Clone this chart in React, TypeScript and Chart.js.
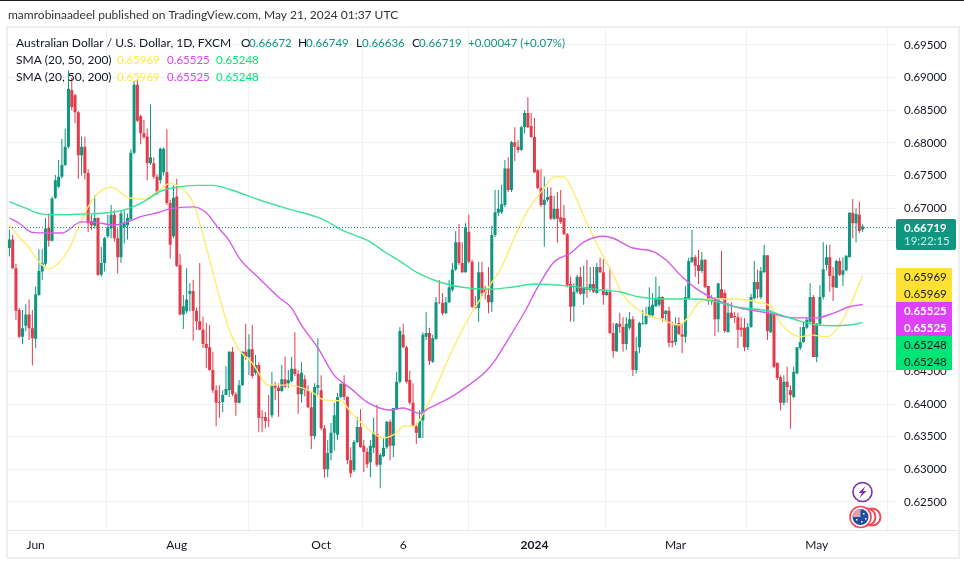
import React, { useEffect, useRef } from "react";
import { Chart, registerables } from "chart.js";

Chart.register(...registerables);

// Daily candles, AUD/USD, 22 May 2023 to 21 May 2024
const opens = [
  .6639,.6652,.6608,.6544,.6503,.6520,.6537,.6516,.6500,.6567,.6603,.6615,.6670,.6650,.6716,.6733,.6748,.6766,.6794,.6881,
  .6873,.6847,.6781,.6794,.6754,.6680,.6673,.6685,.6598,.6616,.6657,.6669,.6690,.6654,.6625,.6671,.6674,.6683,.6785,.6889,
  .6841,.6815,.6810,.6769,.6769,.6748,.6743,.6755,.6755,.6708,.6657,.6718,.6613,.6537,.6542,.6569,.6573,.6543,.6527,.6514,
  .6492,.6487,.6452,.6421,.6403,.6403,.6414,.6421,.6480,.6415,.6402,.6429,.6480,.6472,.6484,.6448,.6460,.6380,.6380,.6375,
  .6383,.6429,.6425,.6420,.6438,.6432,.6435,.6454,.6446,.6415,.6438,.6421,.6395,.6351,.6425,.6421,.6363,.6300,.6325,.6356,
  .6353,.6411,.6431,.6411,.6314,.6299,.6342,.6365,.6336,.6327,.6311,.6333,.6354,.6307,.6320,.6334,.6373,.6336,.6392,.6434,
  .6506,.6487,.6437,.6402,.6366,.6348,.6375,.6503,.6509,.6465,.6500,.6556,.6555,.6539,.6556,.6575,.6606,.6648,.6616,.6602,
  .6664,.6618,.6549,.6547,.6602,.6575,.6567,.6556,.6659,.6693,.6694,.6705,.6761,.6728,.6801,.6794,.6789,.6824,.6846,.6826,
  .6809,.6758,.6731,.6705,.6713,.6719,.6684,.6699,.6686,.6685,.6660,.6584,.6550,.6572,.6595,.6569,.6579,.6575,.6584,.6570,
  .6610,.6602,.6567,.6572,.6509,.6481,.6523,.6518,.6492,.6517,.6530,.6452,.6487,.6523,.6523,.6535,.6536,.6550,.6552,.6564,
  .6538,.6543,.6497,.6495,.6524,.6507,.6503,.6562,.6618,.6625,.6613,.6604,.6621,.6581,.6558,.6560,.6530,.6576,.6570,.6510,
  .6540,.6535,.6533,.6517,.6517,.6487,.6518,.6562,.6587,.6564,.6602,.6628,.6510,.6538,.6463,.6441,.6402,.6434,.6421,.6411,
  .6447,.6486,.6495,.6517,.6526,.6564,.6472,.6523,.6564,.6613,.6625,.6596,.6578,.6619,.6598,.6605,.6625,.6693,.6677,.6690,
  .66672,
];
const highs = [
  .6667,.6659,.6615,.6547,.6544,.6553,.6560,.6544,.6580,.6637,.6637,.6685,.6692,.6718,.6751,.6774,.6806,.6822,.6911,.6900,
  .6875,.6849,.6810,.6810,.6760,.6690,.6720,.6686,.6641,.6656,.6690,.6705,.6697,.6669,.6697,.6697,.6692,.6790,.6895,.6897,
  .6843,.6835,.6822,.6859,.6778,.6752,.6793,.6793,.6821,.6713,.6735,.6745,.6630,.6567,.6608,.6585,.6590,.6548,.6616,.6534,
  .6524,.6521,.6480,.6429,.6429,.6421,.6458,.6481,.6487,.6418,.6437,.6481,.6523,.6507,.6521,.6475,.6464,.6391,.6388,.6414,
  .6449,.6434,.6432,.6460,.6473,.6452,.6472,.6510,.6452,.6464,.6444,.6429,.6418,.6432,.6501,.6444,.6368,.6345,.6371,.6402,
  .6417,.6432,.6444,.6412,.6334,.6345,.6380,.6392,.6345,.6333,.6345,.6379,.6399,.6325,.6349,.6374,.6376,.6394,.6449,.6518,
  .6523,.6489,.6451,.6432,.6368,.6391,.6510,.6541,.6517,.6506,.6564,.6590,.6570,.6564,.6590,.6616,.6665,.6676,.6648,.6677,
  .6690,.6621,.6565,.6618,.6618,.6581,.6610,.6673,.6728,.6728,.6736,.6774,.6778,.6803,.6824,.6804,.6826,.6850,.6870,.6846,
  .6838,.6760,.6760,.6748,.6732,.6732,.6719,.6725,.6728,.6705,.6662,.6595,.6585,.6598,.6610,.6612,.6621,.6610,.6610,.6616,
  .6624,.6622,.6575,.6610,.6524,.6524,.6540,.6533,.6533,.6541,.6535,.6503,.6526,.6544,.6549,.6579,.6570,.6595,.6581,.6565,
  .6544,.6549,.6526,.6533,.6533,.6524,.6581,.6624,.6667,.6628,.6636,.6633,.6622,.6581,.6567,.6564,.6585,.6635,.6575,.6555,
  .6556,.6541,.6540,.6533,.6532,.6524,.6569,.6619,.6606,.6610,.6644,.6628,.6544,.6540,.6464,.6444,.6444,.6457,.6429,.6457,
  .6487,.6518,.6526,.6533,.6585,.6567,.6524,.6582,.6648,.6644,.6644,.6610,.6621,.6624,.6625,.6628,.6694,.6714,.6700,.6710,
  .66749,
];
const lows = [
  .6626,.6607,.6529,.6501,.6492,.6511,.6498,.6459,.6486,.6566,.6590,.6612,.6641,.6649,.6714,.6731,.6745,.6765,.6792,.6850,
  .6830,.6745,.6750,.6744,.6663,.6667,.6669,.6596,.6595,.6603,.6654,.6654,.6649,.6600,.6616,.6646,.6652,.6682,.6783,.6832,
  .6798,.6806,.6743,.6766,.6745,.6720,.6738,.6750,.6705,.6623,.6654,.6610,.6536,.6515,.6539,.6542,.6497,.6514,.6513,.6486,
  .6455,.6451,.6417,.6366,.6379,.6388,.6414,.6411,.6412,.6382,.6401,.6428,.6468,.6444,.6440,.6445,.6357,.6357,.6363,.6365,
  .6379,.6406,.6380,.6418,.6425,.6425,.6434,.6443,.6385,.6402,.6412,.6394,.6331,.6346,.6414,.6360,.6287,.6288,.6314,.6329,
  .6345,.6409,.6406,.6308,.6288,.6296,.6340,.6333,.6296,.6302,.6288,.6325,.6304,.6271,.6319,.6331,.6314,.6319,.6391,.6432,
  .6486,.6432,.6399,.6365,.6339,.6348,.6348,.6498,.6460,.6463,.6498,.6553,.6536,.6538,.6555,.6572,.6604,.6613,.6601,.6601,
  .6616,.6547,.6546,.6526,.6565,.6560,.6539,.6541,.6656,.6688,.6691,.6702,.6725,.6725,.6772,.6785,.6788,.6815,.6823,.6808,
  .6754,.6729,.6702,.6641,.6710,.6682,.6682,.6647,.6676,.6659,.6579,.6526,.6526,.6569,.6567,.6552,.6563,.6572,.6570,.6569,
  .6601,.6552,.6565,.6507,.6471,.6480,.6509,.6480,.6483,.6514,.6443,.6447,.6478,.6521,.6521,.6533,.6533,.6549,.6549,.6526,
  .6526,.6487,.6487,.6490,.6506,.6478,.6494,.6560,.6616,.6595,.6584,.6601,.6578,.6552,.6552,.6504,.6510,.6560,.6509,.6510,
  .6532,.6524,.6486,.6503,.6481,.6483,.6517,.6560,.6562,.6561,.6601,.6498,.6509,.6455,.6437,.6390,.6398,.6402,.6362,.6409,
  .6446,.6483,.6494,.6515,.6524,.6472,.6464,.6521,.6560,.6605,.6572,.6558,.6578,.6596,.6581,.6604,.6625,.6654,.6648,.6662,
  .66636,
];
const closes = [
  .6652,.6608,.6543,.6503,.6516,.6537,.6516,.6501,.6568,.6604,.6616,.6669,.6650,.6715,.6743,.6748,.6766,.6794,.6883,.6855,
  .6847,.6781,.6794,.6754,.6677,.6674,.6685,.6598,.6616,.6654,.6671,.6690,.6654,.6625,.6692,.6677,.6685,.6785,.6889,.6834,
  .6815,.6809,.6769,.6778,.6748,.6725,.6791,.6791,.6708,.6644,.6716,.6612,.6537,.6550,.6560,.6573,.6543,.6527,.6514,.6492,
  .6486,.6452,.6421,.6402,.6402,.6414,.6423,.6480,.6415,.6402,.6429,.6480,.6472,.6484,.6443,.6460,.6379,.6379,.6374,.6374,
  .6429,.6425,.6420,.6438,.6426,.6437,.6454,.6446,.6415,.6448,.6421,.6395,.6351,.6426,.6429,.6363,.6300,.6325,.6356,.6383,
  .6411,.6431,.6411,.6314,.6294,.6342,.6365,.6334,.6327,.6308,.6336,.6356,.6307,.6322,.6333,.6373,.6336,.6394,.6434,.6512,
  .6487,.6434,.6402,.6366,.6356,.6375,.6506,.6509,.6466,.6501,.6556,.6555,.6539,.6556,.6579,.6606,.6648,.6616,.6602,.6671,
  .6618,.6549,.6547,.6602,.6570,.6570,.6556,.6659,.6694,.6699,.6706,.6761,.6728,.6801,.6794,.6789,.6824,.6846,.6824,.6809,
  .6755,.6731,.6705,.6713,.6717,.6684,.6699,.6684,.6679,.6660,.6582,.6549,.6572,.6595,.6569,.6579,.6575,.6584,.6572,.6610,
  .6602,.6567,.6572,.6509,.6481,.6523,.6518,.6492,.6523,.6530,.6452,.6481,.6524,.6524,.6535,.6549,.6552,.6562,.6564,.6532,
  .6543,.6494,.6494,.6521,.6507,.6503,.6564,.6619,.6625,.6612,.6604,.6621,.6579,.6558,.6562,.6530,.6585,.6562,.6512,.6540,
  .6532,.6533,.6514,.6514,.6487,.6518,.6564,.6587,.6576,.6604,.6628,.6512,.6538,.6457,.6440,.6402,.6434,.6426,.6414,.6449,
  .6487,.6495,.6518,.6529,.6564,.6472,.6523,.6564,.6606,.6625,.6596,.6579,.6619,.6598,.6605,.6627,.6693,.6677,.6691,.6665,
  .66719,
];

// Moving averages: [bar number, value]
const sma20Readings = [
  [0,.6674],[3,.6656],[6,.6639],[9,.6618],[12,.6607],[15,.6616],[18,.6636],[21,.6670],[24,.6702],[27,.6723],[31,.6732],[36,.6717],
  [41,.6714],[45,.6725],[49,.6738],[51,.6735],[56,.6708],[58,.6677],[61,.6621],[64,.6564],[67,.6514],[70,.6483],[74,.6463],[79,.6429],
  [85,.6429],[92,.6419],[96,.6406],[101,.6405],[104,.6388],[109,.6363],[114,.6348],[118,.6356],[120,.6366],[123,.6366],[127,.6394],
  [135,.6483],[141,.6541],[146,.6579],[150,.6610],[154,.6656],[158,.6697],[163,.6731],[166,.6748],[169,.6748],[172,.6723],[176,.6677],
  [180,.6636],[184,.6598],[187,.6567],[193,.6540],[199,.6529],[204,.6521],[207,.6534],[210,.6555],[214,.6561],[221,.6561],[228,.6556],
  [232,.6549],[235,.6524],[238,.6509],[241,.6503],[244,.6506],[249,.6503],[252,.6514],[256,.6549],[260,.65969],
];
const sma50Readings = [
  [0,.6685],[3,.6677],[7,.6663],[12,.6662],[16,.6662],[22,.6679],[25,.6679],[32,.6674],[36,.6679],[40,.6687],[45,.6693],[49,.6699],
  [56,.6702],[60,.6693],[63,.6674],[67,.6650],[70,.6624],[76,.6593],[82,.6564],[86,.6547],[89,.6521],[94,.6486],[99,.6444],[104,.6424],
  [109,.6403],[116,.6391],[120,.6394],[125,.6386],[128,.6394],[134,.6409],[140,.6429],[145,.6449],[148,.6467],[150,.6483],[157,.6541],
  [161,.6579],[166,.6618],[171,.6631],[175,.6648],[181,.6657],[184,.6654],[190,.6639],[196,.6634],[200,.6621],[205,.6595],[209,.6578],
  [214,.6563],[221,.6549],[226,.6544],[232,.6539],[239,.6532],[246,.6532],[251,.6539],[256,.6549],[260,.65525],
];
const sma200Readings = [
  [0,.6710],[5,.6700],[10,.6691],[15,.6690],[22,.6691],[30,.6693],[36,.6699],[41,.6710],[46,.6726],[52,.6733],[58,.6735],[62,.6735],
  [67,.6729],[76,.6713],[85,.6699],[95,.6684],[102,.6665],[109,.6651],[115,.6631],[119,.6619],[124,.6602],[131,.6587],[138,.6579],
  [146,.6576],[153,.6579],[160,.6584],[170,.6581],[180,.6575],[186,.6572],[192,.6564],[200,.6561],[210,.6561],[216,.6556],[221,.6549],
  [226,.6546],[231,.6543],[236,.6535],[241,.6527],[246,.6521],[251,.6520],[256,.6521],[260,.65248],
];

const priceTicks = [.625,.63,.635,.64,.645,.65,.655,.66,.665,.67,.675,.68,.685,.69,.695];
const timeTicks: Record<string, string> = {
  "2023-06-01": "Jun", "2023-08-01": "Aug", "2023-10-02": "Oct", "2023-11-06": "6",
  "2024-01-02": "2024", "2024-03-01": "Mar", "2024-05-01": "May",
};
const closedDays = ["2023-12-25"];
const lastPrice = 0.66719;
const countdown = "19:22:15";
const smaValues = ["0.65969", "0.65525", "0.65248"];
const smaColors = ["#ffeb3b", "#e040fb", "#00e676"];
const smaTagColors = ["#ffe135", "#e040fb", "#00e676"];
const smaTagText = ["#131722", "#ffffff", "#131722"];
const upColor = "#0f9680";
const downColor = "#e23b4a";
const gridColor = "#f0f1f4";
const FONT = 'Lato, "Open Sans", sans-serif';
const FUTURE_SLOTS = 10;

function buildDays(count: number) {
  const out: string[] = [];
  const d = new Date(Date.UTC(2023, 4, 22));
  while (out.length < count) {
    const wd = d.getUTCDay();
    const s = d.toISOString().slice(0, 10);
    if (wd !== 0 && wd !== 6 && !closedDays.includes(s)) out.push(s);
    d.setUTCDate(d.getUTCDate() + 1);
  }
  return out;
}

const framePlugin = {
  id: "frame",
  beforeDraw(chart: any) {
    const c = chart.ctx;
    c.save();
    c.fillStyle = "#ffffff";
    c.fillRect(0, 0, 964, 564);
    c.fillStyle = "#1a1a1a";
    c.fillRect(0, 0, 964, 1);
    c.strokeStyle = "#eeeeee";
    c.lineWidth = 2;
    c.strokeRect(7, 27, 952, 531);
    c.restore();
  },
  afterDatasetsDraw(chart: any) {
    const c = chart.ctx;
    const y = chart.scales.y.getPixelForValue(lastPrice);
    c.save();
    c.strokeStyle = upColor;
    c.lineWidth = 1;
    c.setLineDash([1, 2]);
    c.beginPath();
    c.moveTo(9, Math.round(y) + 0.5);
    c.lineTo(896, Math.round(y) + 0.5);
    c.stroke();
    c.restore();
  },
  afterDraw(chart: any) {
    const c = chart.ctx;
    const text12 = `12px ${FONT}`;
    const num = `11.5px ${FONT}`;
    c.save();
    // axis baseline
    c.fillStyle = "#e4e6ea";
    c.fillRect(8, 530, 950, 1);

    // header rows
    c.textBaseline = "middle";
    c.textAlign = "left";
    c.font = text12;
    c.fillStyle = "#333333";
    c.fillText("mamrobinaadeel published on TradingView.com, May 21, 2024 01:37 UTC", 8, 15.5);

    c.fillStyle = "#131722";
    c.fillText("Australian Dollar / U.S. Dollar, 1D, FXCM", 16, 43);
    const dark = "#131722";
    const vals: [string, number, string][] = [
      ["O", 241, dark], ["0.66672", 249, upColor],
      ["H", 298, dark], ["0.66749", 306, upColor],
      ["L", 356, dark], ["0.66636", 362, upColor],
      ["C", 412, dark], ["0.66719", 419, upColor],
      ["+0.00047 (+0.07%)", 468, upColor],
    ];
    vals.forEach(([t, x, col]) => {
      c.fillStyle = col;
      c.font = /^[OHLC]$/.test(t) ? text12 : num;
      c.fillText(t, x, 43);
    });
    [60, 77].forEach((ry) => {
      c.fillStyle = dark;
      c.font = text12;
      c.fillText("SMA (20, 50, 200)", 16, ry);
      c.font = num;
      [117, 167, 216].forEach((x, i) => {
        c.fillStyle = smaColors[i];
        c.fillText(smaValues[i], x, ry);
      });
    });

    // last price tag
    const tagX = 896;
    c.fillStyle = "#0f9680";
    c.beginPath();
    c.roundRect(tagX, 219, 60, 31, 2);
    c.fill();
    c.font = `bold 11.5px ${FONT}`;
    c.fillStyle = "#ffffff";
    c.fillText(lastPrice.toFixed(5), 904, 228);
    c.font = num;
    c.fillStyle = "#cfeee8";
    c.fillText(countdown, 904, 241.5);

    // moving average tags
    const tagTops = [268, 302, 336];
    smaValues.forEach((v, i) => {
      c.fillStyle = smaTagColors[i];
      c.fillRect(tagX, tagTops[i], 56, 34);
      c.fillStyle = smaTagText[i];
      c.font = i === 1 ? `bold 11.5px ${FONT}` : num;
      c.fillText(v, 904, tagTops[i] + 9);
      c.fillText(v, 904, tagTops[i] + 26);
    });

    // lightning badge
    c.strokeStyle = "#7b2fa8";
    c.lineWidth = 1.6;
    c.beginPath();
    c.arc(862.5, 492, 9.5, 0, Math.PI * 2);
    c.stroke();
    c.fillStyle = "#7b2fa8";
    c.beginPath();
    c.moveTo(865.5, 486);
    c.lineTo(858.5, 493);
    c.lineTo(862, 493);
    c.lineTo(859.5, 498);
    c.lineTo(866.5, 491);
    c.lineTo(863, 491);
    c.closePath();
    c.fill();

    // currency badge
    [[872, 517], [867, 517]].forEach(([x, y]) => {
      c.fillStyle = "#ffffff";
      c.strokeStyle = "#ef4a55";
      c.lineWidth = 2;
      c.beginPath();
      c.arc(x, y, 8.5, 0, Math.PI * 2);
      c.fill();
      c.stroke();
    });
    c.fillStyle = "#ffffff";
    c.beginPath();
    c.arc(860.5, 517, 10.5, 0, Math.PI * 2);
    c.fill();
    c.strokeStyle = "#ef4a55";
    c.lineWidth = 1.6;
    c.stroke();
    c.fillStyle = "#1f4fa3";
    c.beginPath();
    c.arc(860.5, 517, 8, 0, Math.PI * 2);
    c.fill();
    c.fillStyle = "#e8a0a5";
    c.beginPath();
    c.moveTo(860.5, 517);
    c.arc(860.5, 517, 8, Math.PI, Math.PI * 1.5);
    c.closePath();
    c.fill();
    c.fillStyle = "#ffffff";
    [[863, 513], [865, 518], [861, 521], [856, 519]].forEach(([x, y]) => {
      c.fillRect(x, y, 1.5, 1.5);
    });
    c.restore();
  },
};

export default function App() {
  const ref = useRef<HTMLCanvasElement>(null);

  useEffect(() => {
    const days = buildDays(opens.length + FUTURE_SLOTS);
    const barColors = opens.map((o, i) => (closes[i] >= o ? upColor : downColor));
    const toLine = (rows: number[][]) => rows.map(([i, v]) => ({ x: days[i], y: v }));
    const line = (label: string, rows: number[][], color: string) => ({
      type: "line" as const,
      label,
      data: toLine(rows),
      borderColor: color,
      borderWidth: 1.4,
      pointRadius: 0,
      cubicInterpolationMode: "monotone",
      order: 1,
    });

    const chart = new Chart(ref.current as HTMLCanvasElement, {
      type: "bar",
      data: {
        labels: days,
        datasets: [
          {
            type: "bar",
            label: "Range",
            data: lows.map((l, i) => [l, highs[i]]),
            backgroundColor: barColors,
            barThickness: 1,
            grouped: false,
            inflateAmount: 0,
            order: 3,
          },
          {
            type: "bar",
            label: "Body",
            data: opens.map((o, i) => [o, closes[i]]),
            backgroundColor: barColors,
            barThickness: 3,
            grouped: false,
            inflateAmount: 0,
            order: 2,
          },
          line("SMA 200", sma200Readings, "#3ce295"),
          line("SMA 50", sma50Readings, "#d65ce8"),
          line("SMA 20", sma20Readings, "#ffec6a"),
        ],
      } as any,
      plugins: [framePlugin],
      options: {
        responsive: false,
        animation: false,
        maintainAspectRatio: false,
        layout: { padding: { left: 7.76, top: 29, right: 0, bottom: 7 } },
        plugins: { legend: { display: false }, tooltip: { enabled: false }, title: { display: false } },
        scales: {
          x: {
            type: "category",
            offset: true,
            afterBuildTicks(scale: any) {
              scale.ticks = scale.ticks.filter((t: any) => timeTicks[days[t.value]]);
            },
            afterFit(scale: any) {
              scale.height = 27;
            },
            grid: { color: gridColor, drawTicks: false },
            border: { display: false },
            ticks: {
              autoSkip: false,
              maxRotation: 0,
              padding: 8,
              color: "#131722",
              font: (ctx: any) => ({
                family: FONT,
                size: 12,
                weight: ctx.tick && ctx.tick.label === "2024" ? "bold" : "normal",
              }),
              callback(value: any) {
                return timeTicks[days[value]];
              },
            },
          },
          y: {
            position: "right",
            min: 0.62071,
            max: 0.69745,
            afterBuildTicks(scale: any) {
              scale.ticks = priceTicks.map((v) => ({ value: v }));
            },
            afterFit(scale: any) {
              scale.width = 66.94;
            },
            grid: { color: gridColor, drawTicks: false },
            border: { display: false },
            ticks: {
              padding: 7,
              color: "#131722",
              font: { family: FONT, size: 11.5 },
              callback(value: any) {
                return Number(value).toFixed(5);
              },
            },
          },
        },
      } as any,
    });
    return () => chart.destroy();
  }, []);

  return (
    <canvas
      ref={ref}
      width={964}
      height={564}
      style={{ display: "block", position: "absolute", left: 0, top: 0, width: 964, height: 564 }}
    />
  );
}
